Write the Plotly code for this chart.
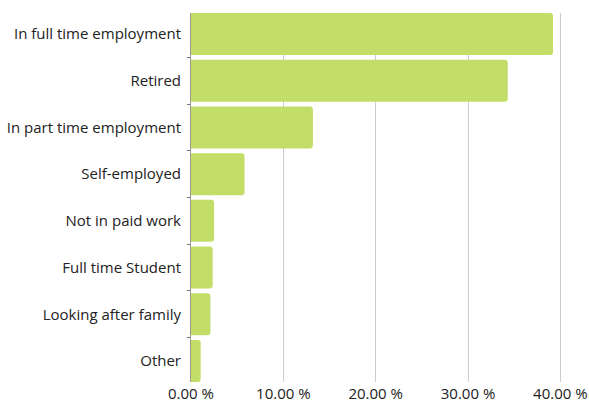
import plotly.graph_objects as go

# Employment status shares (percent of respondents)
categories = [
    "In full time employment",
    "Retired",
    "In part time employment",
    "Self-employed",
    "Not in paid work",
    "Full time Student",
    "Looking after family",
    "Other",
]
shares = [39.2, 34.3, 13.2, 5.8, 2.5, 2.35, 2.1, 1.05]
tick_values = [0, 10, 20, 30, 40]
tick_labels = ["0.00 %", "10.00 %", "20.00 %", "30.00 %", "40.00 %"]

fig = go.Figure(
    go.Bar(
        x=shares,
        y=categories,
        orientation="h",
        marker=dict(color="#c2de68", line=dict(width=0), cornerradius=3),
        hoverinfo="x+y",
    )
)

fig.update_layout(
    width=589,
    height=403,
    margin=dict(l=191, r=24, t=13, b=21),
    paper_bgcolor="white",
    plot_bgcolor="white",
    bargap=0.1,
    showlegend=False,
    font=dict(family="Open Sans", size=15, color="#222222"),
)

fig.update_xaxes(
    range=[0, 40.5],
    tickvals=tick_values,
    ticktext=tick_labels,
    showgrid=True,
    gridcolor="#cccccc",
    gridwidth=1,
    zeroline=False,
    showline=False,
    ticks="",
    ticklabelstandoff=1,
    automargin=False,
    tickfont=dict(size=15, color="#222222"),
)

fig.update_yaxes(
    categoryorder="array",
    categoryarray=categories,
    range=[7.45, -0.45],
    showgrid=False,
    zeroline=False,
    showline=True,
    linecolor="#999999",
    linewidth=1,
    ticks="outside",
    tickson="boundaries",
    ticklen=3,
    tickcolor="#777777",
    ticklabelstandoff=6,
    automargin=False,
    tickfont=dict(size=15, color="#222222"),
)

fig.write_html("out.html")
